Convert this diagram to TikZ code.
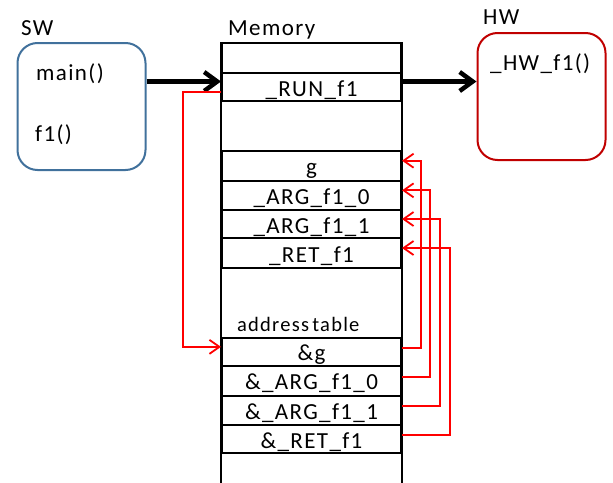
\documentclass[tikz,border=0pt]{standalone}
\usepackage{fontspec}
\setmainfont{Carlito}[LetterSpace=6]
\usetikzlibrary{arrows.meta}
\definecolor{swblue}{HTML}{41719C}
\definecolor{hwred}{HTML}{C00000}
\begin{document}
\begin{tikzpicture}[x=1pt,y=-1pt,
  txt/.style={font=\fontsize{23}{27}\selectfont, inner sep=0pt},
  cell/.style={txt, draw, line width=2pt, minimum width=179pt,
    text height=18pt, text depth=0pt},
  unit/.style={draw, line width=2pt, rounded corners=20pt,
    minimum width=128pt, minimum height=127pt},
  label/.style={txt, anchor=base west},
  bigarrow/.style={line width=4.5pt, -{Straight Barb[length=13pt,width=19pt]}},
  link/.style={red, line width=1.8pt, -{Straight Barb[length=10pt,width=14pt]}}]
\useasboundingbox (0,0) rectangle (613,482);

% software and hardware units
\node[unit, draw=swblue] (sw) at (81.5,106.5) {};
\node[unit, draw=hwred]  (hw) at (541.5,96.5) {};
\node[label] (swlab)  at (21,35)  {SW};
\node[label] (hwlab)  at (483,24) {HW};
\node[label] (memlab) at (228,35) {Memory};
\node[label] (mainf)  at (36,80)  {main()};
\node[label] (f1f)    at (35,141) {f1()};
\node[label] (hwf)    at (490,70) {\_HW\_f1()};

% memory cells
\node[cell, minimum height=30pt]   (top)   at (311.5,58)     {};
\node[cell, minimum height=28pt]   (run)   at (311.5,87)     {\_RUN\_f1};
\node[cell, minimum height=30pt]   (g)     at (311.5,165.7)  {g};
\node[cell, minimum height=29.3pt] (arg0)  at (311.5,195.35) {\_ARG\_f1\_0};
\node[cell, minimum height=28pt]   (arg1)  at (311.5,224)    {\_ARG\_f1\_1};
\node[cell, minimum height=30pt]   (ret)   at (311.5,253)    {\_RET\_f1};
\node[label, font=\fontsize{20.5}{24}\selectfont] (atab) at (237,331.5) {address\hspace{-2.5pt} table};
\node[cell, minimum height=28.3pt] (ag)    at (311.5,351.85) {\&g};
\node[cell, minimum height=29.7pt] (aarg0) at (311.5,380.85) {\&\_ARG\_f1\_0};
\node[cell, minimum height=29.3pt] (aarg1) at (311.5,410.35) {\&\_ARG\_f1\_1};
\node[cell, minimum height=28.3pt] (aret)  at (311.5,439.15) {\&\_RET\_f1};

% memory column sides
\coordinate (bot) at (0,486);
\draw[line width=2pt] (top.north west) -- (top.north west |- bot);
\draw[line width=2pt] (top.north east) -- (top.north east |- bot);

% calls
\coordinate (lane) at (0,81.5);
\draw[bigarrow] (sw.east |- lane) -- (run.west |- lane);
\draw[bigarrow] (run.east |- lane) -- (hw.west |- lane);

% pointers
\draw[link] ([yshift=-5pt]run.west) -| ([xshift=-38pt,yshift=5pt]ag.west) -- ([yshift=5pt]ag.west);
\draw[link] ([yshift=4pt]ag.east)    -| ([xshift=19pt,yshift=5pt]g.east)    -- ([yshift=5pt]g.east);
\draw[link] ([yshift=4pt]aarg0.east) -| ([xshift=28pt,yshift=5pt]arg0.east) -- ([yshift=5pt]arg0.east);
\draw[link] ([yshift=4pt]aarg1.east) -| ([xshift=38pt,yshift=5pt]arg1.east) -- ([yshift=5pt]arg1.east);
\draw[link] ([yshift=4pt]aret.east)  -| ([xshift=48pt,yshift=5pt]ret.east)  -- ([yshift=5pt]ret.east);
\end{tikzpicture}
\end{document}
